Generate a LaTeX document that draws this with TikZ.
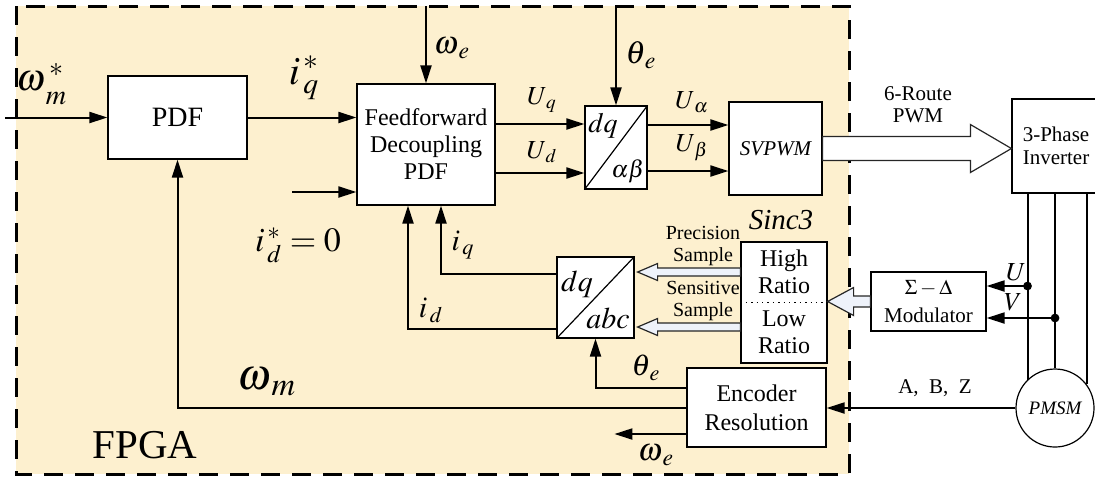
\documentclass[tikz,border=0pt]{standalone}
\usepackage{mathptmx}
\usepackage[no-math]{fontspec}
\setmainfont{Liberation Serif}
\usetikzlibrary{arrows.meta,calc}

\definecolor{fpgabg}{HTML}{FDF0CF}
\definecolor{hollowfill}{HTML}{EEF2FA}

% hollow arrow: [fill]{from}{to}{shaft half}{head half}{head length, signed}
\newcommand{\hollowarr}[6][white]{%
  \draw[hollow,fill=#1] let \p1=(#2), \p2=(#3), \n1={#6} in
    (\x1,{\y1+#4}) -- ({\x2-\n1},{\y1+#4}) -- ({\x2-\n1},{\y1+#5}) -- (\x2,\y1)
    -- ({\x2-\n1},{\y1-#5}) -- ({\x2-\n1},{\y1-#4}) -- (\x1,{\y1-#4}) -- cycle;}

\begin{document}
\begin{tikzpicture}[x=0.5pt,y=-0.5pt]
    \tikzstyle{block}=[rectangle,draw,fill=white,line width=0.6pt,inner sep=1pt,align=center,font=\fontsize{12}{13.5}\selectfont]
    \tikzstyle{sig}=[line width=1pt,-{Triangle[length=9pt,width=5.5pt]}]
    \tikzstyle{wire}=[line width=1pt]
    \tikzstyle{lab}=[inner sep=0pt,align=center]
    \tikzstyle{hollow}=[draw=black!85,line width=0.6pt]
    \useasboundingbox (0,0) rectangle (1095,479);
    % FPGA region
    \draw[fill=fpgabg,line width=1.5pt,dash pattern=on 9.5pt off 6pt] (16,6) rectangle (849,474);
    \node[lab,font=\fontsize{20.5}{22}\selectfont] (fpga) at (145,445) {FPGA};
    % blocks
    \node[block,minimum width=69.5pt,minimum height=41.5pt,font=\fontsize{14}{16}\selectfont] (pdf) at (177.5,117.5) {PDF};
    \node[block,minimum width=69pt,minimum height=60.5pt] (ffd) at (426,144.5) {Feedforward\\Decoupling\\PDF};
    \node[block,minimum width=31pt,minimum height=41.5pt] (dqab) at (616,147.5) {};
    \node[block,minimum width=46.5pt,minimum height=46.5pt,font=\itshape\fontsize{10.5}{12}\selectfont] (svpwm) at (775.5,148.5) {SVPWM};
    \node[block,minimum width=44pt,minimum height=47pt,font=\fontsize{10.5}{11.5}\selectfont] (inv) at (1056,146) {3-Phase\\Inverter};
    \node[block,minimum width=57.5pt,minimum height=29.5pt,font=\fontsize{10.5}{14}\selectfont] (mod) at (928.5,301.5) {$\Sigma-\Delta$\\Modulator};
    \node[block,minimum width=43pt,minimum height=60.5pt] (sinc) at (784,302.5) {};
    \node[block,minimum width=38.5pt,minimum height=40.5pt] (dqabc) at (595.5,297.5) {};
    \node[block,minimum width=69.5pt,minimum height=39.5pt,font=\fontsize{12}{14.5}\selectfont] (enc) at (756.5,407.5) {Encoder\\Resolution};
    \node[circle,draw,fill=white,line width=0.6pt,minimum size=39pt,inner sep=0pt,font=\itshape\fontsize{9.5}{11}\selectfont] (pmsm) at (1055,408) {PMSM};
    % transform boxes
    \draw[line width=0.6pt] (dqab.south west) -- (dqab.north east);
    \node[lab,font=\fontsize{14}{15}\selectfont] (dqt) at (603,126) {$dq$};
    \node[lab,font=\fontsize{12}{13}\selectfont] (abt) at (628,171) {$\alpha\beta$};
    \draw[line width=0.6pt] (dqabc.south west) -- (dqabc.north east);
    \node[lab,font=\fontsize{15}{16}\selectfont] (dqb) at (577,284) {$dq$};
    \node[lab,font=\fontsize{15}{16}\selectfont] (abc) at (608,318) {$abc$};
    % sinc3 filter
    \draw[dotted,line width=0.7pt] (sinc.west) -- (sinc.east);
    \node[lab,font=\fontsize{12}{13.5}\selectfont] (high) at (784,272) {High\\Ratio};
    \node[lab,font=\fontsize{12}{13.5}\selectfont] (low) at (784,332) {Low\\Ratio};
    \node[lab,font=\itshape\fontsize{14.5}{16}\selectfont] (sinclab) at (781,220) {Sinc3};
    \node[lab,font=\fontsize{10}{11}\selectfont] (prec) at (703,246) {Precision\\Sample};
    \node[lab,font=\fontsize{10}{11}\selectfont] (sens) at (703,301) {Sensitive\\Sample};
    % forward path
    \coordinate (top) at (0,6);
    \coordinate (wmin) at (5,117.5);
    \coordinate (idin) at (292,192);
    \draw[sig] (wmin) -- (pdf.west);
    \draw[sig] (pdf.east) -- (pdf.east -| ffd.west);
    \draw[sig] (idin) -- (idin -| ffd.west);
    \draw[sig] (ffd.north |- top) -- (ffd.north);
    \draw[sig] (dqab.north |- top) -- (dqab.north);
    \coordinate (uq) at ([yshift=11.75pt]dqab.west);
    \coordinate (ud) at ([yshift=-12.75pt]dqab.west);
    \draw[sig] (uq -| ffd.east) -- (uq);
    \draw[sig] (ud -| ffd.east) -- (ud);
    \coordinate (ua) at ([yshift=11.25pt]dqab.east);
    \coordinate (ub) at ([yshift=-11.75pt]dqab.east);
    \draw[sig] (ua) -- (ua -| svpwm.west);
    \draw[sig] (ub) -- (ub -| svpwm.west);
    \hollowarr{svpwm.east}{inv.west}{6pt}{12pt}{20.5pt}
    % motor side
    \draw[wire] (inv.south -| pmsm.134) -- (pmsm.134);
    \draw[wire] (inv.south -| pmsm.north) -- (pmsm.north);
    \draw[wire] (inv.south -| pmsm.37) -- (pmsm.37);
    \coordinate (uy) at (0,286);
    \coordinate (vy) at (0,318);
    \coordinate (tapu) at (pmsm.134 |- uy);
    \coordinate (tapv) at (pmsm.north |- vy);
    \draw[sig] (tapu) -- (tapu -| mod.east);
    \draw[sig] (tapv) -- (tapv -| mod.east);
    \fill (tapu) circle (2.2pt);
    \fill (tapv) circle (2.2pt);
    \hollowarr[hollowfill]{mod.west}{sinc.east}{2.75pt}{7pt}{-13pt}
    \coordinate (prs) at ([yshift=15.25pt]sinc.west);
    \coordinate (sns) at ([yshift=-12.25pt]sinc.west);
    \coordinate (prsend) at ([xshift=1.5pt]dqabc.east |- prs);
    \coordinate (snsend) at ([xshift=1.5pt]dqabc.east |- sns);
    \hollowarr[hollowfill]{prs}{prsend}{2pt}{4.25pt}{-10pt}
    \hollowarr[hollowfill]{sns}{snsend}{2pt}{4.25pt}{-10pt}
    \draw[sig] (pmsm.west) -- (pmsm.west -| enc.east);
    % feedback path
    \coordinate (iqo) at ([yshift=11.75pt]dqabc.west);
    \coordinate (ido) at ([yshift=-15.75pt]dqabc.west);
    \draw[sig] (iqo) -| ([xshift=7.5pt]ffd.south);
    \draw[sig] (ido) -| ([xshift=-9pt]ffd.south);
    \draw[sig] ([yshift=9.75pt]enc.west) -| (dqabc.south);
    \draw[sig] (enc.west) -| (pdf.south);
    \draw[sig] ([yshift=-13.25pt]enc.west) -- ++(-36pt,0);
    % labels
    \node[lab,font=\fontsize{19}{20}\selectfont] (lwmref) at (42,84) {$\omega^{\,*}_{\,\lower2.5pt\hbox{$\scriptstyle m$}}$};
    \node[lab,font=\fontsize{20}{21}\selectfont] (liqref) at (304,78) {$i_{\,q}^{\,*}$};
    \node[lab,font=\fontsize{17}{18}\selectfont] (lidref) at (298,245) {$i_{\,d}^{\,*}=0$};
    \node[lab,font=\fontsize{16}{17}\selectfont] (lwe) at (452,48) {$\omega_{\,e}$};
    \node[lab,font=\fontsize{16}{17}\selectfont] (lthe) at (641,55) {$\theta_{\,e}$};
    \node[lab,font=\fontsize{13}{14}\selectfont] (luq) at (542,100) {$U_{\,q}$};
    \node[lab,font=\fontsize{13}{14}\selectfont] (lud) at (542,152) {$U_{\,d}$};
    \node[lab,font=\fontsize{13}{14}\selectfont] (lua) at (692,102) {$U_{\,\alpha}$};
    \node[lab,font=\fontsize{13}{14}\selectfont] (lub) at (692,148) {$U_{\,\beta}$};
    \node[lab,font=\fontsize{10.5}{11}\selectfont] (lpwm) at (918,105) {6-Route\\PWM};
    \node[lab,font=\fontsize{15}{16}\selectfont] (liq) at (463,245) {$i_{\,q}$};
    \node[lab,font=\fontsize{15}{16}\selectfont] (lid) at (431,310) {$i_{\,d}$};
    \node[lab,font=\fontsize{15}{16}\selectfont] (lthe2) at (646,368) {$\theta_{\,e}$};
    \node[lab,font=\fontsize{16}{17}\selectfont] (lwe2) at (656,455) {$\omega_{\,e}$};
    \node[lab,font=\fontsize{22}{23}\selectfont] (lwm) at (267,382) {$\omega_{\,m}$};
    \node[lab,font=\fontsize{10.5}{11}\selectfont] (labz) at (935,388) {A,\ \ B,\ \ Z};
    \node[lab,font=\fontsize{13}{14}\selectfont] (lu) at (1016,272) {$U$};
    \node[lab,font=\fontsize{13}{14}\selectfont] (lv) at (1013,302) {$V$};
\end{tikzpicture}
\end{document}
